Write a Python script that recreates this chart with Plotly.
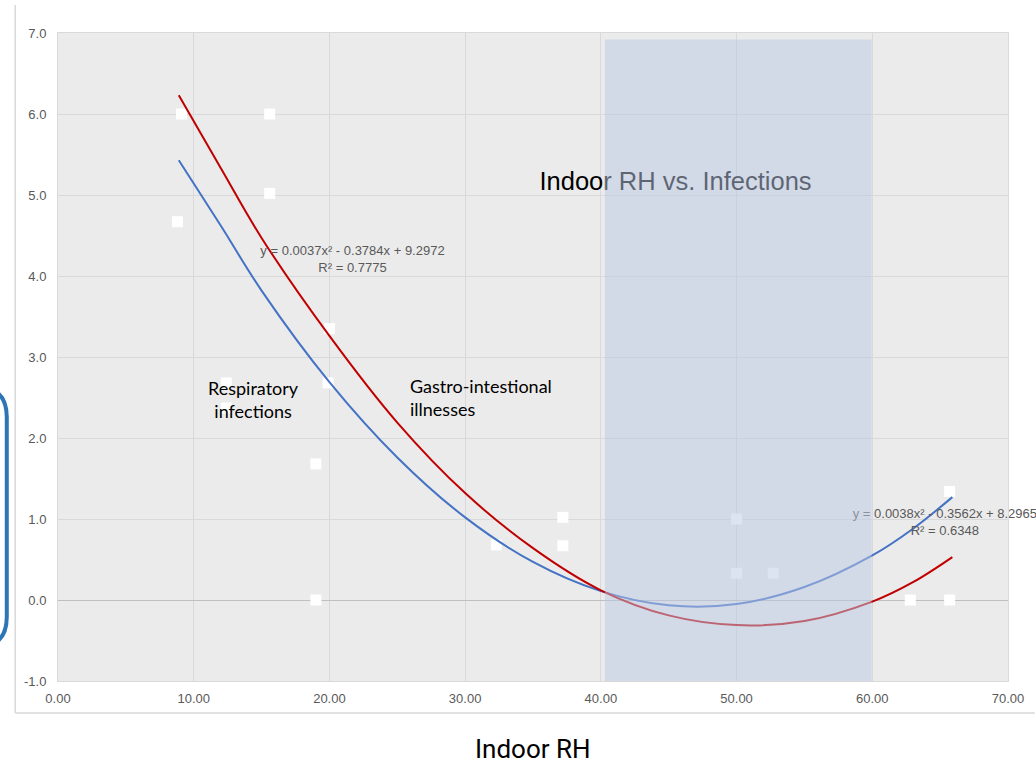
import plotly.graph_objects as go

# ---- data ----
pts_x = [9.1, 15.6, 15.6, 8.8, 12.4, 12.4, 19.9, 20.0, 19.0, 19.0, 32.3, 37.2, 37.2, 50.0, 50.0, 52.7, 62.8, 65.7, 65.7]
pts_y = [6.0, 6.0, 5.02, 4.67, 2.68, 2.37, 2.68, 3.35, 1.68, 0.0, 0.68, 1.02, 0.67, 1.0, 0.33, 0.33, 0.0, 0.0, 1.34]

curve_x = [8.9, 12, 15, 20, 25, 30, 35, 40, 45, 50, 55, 60, 63, 65.9]
gastro_y = [6.23, 5.33, 4.47, 3.26, 2.19, 1.32, 0.64, 0.12, -0.19, -0.31, -0.26, -0.02, 0.22, 0.53]
resp_y = [5.43, 4.62, 3.82, 2.69, 1.76, 1.02, 0.47, 0.11, -0.065, -0.05, 0.16, 0.55, 0.88, 1.27]

x_ticks = [0, 10, 20, 30, 40, 50, 60, 70]
y_ticks = [-1, 0, 1, 2, 3, 4, 5, 6, 7]
x_tick_labels = [f"{v:.2f}" for v in x_ticks]
y_tick_labels = [f"{v:.1f}" for v in y_ticks]

band_x = [40.3, 59.95]
band_y = [-1.0, 6.92]

title_text = "Indoor RH vs. Infections"
title_pos = (45.5, 5.14)
eq1_text = "y = 0.0037x² - 0.3784x + 9.2972<br>R² = 0.7775"
eq1_pos = (21.7, 4.19)
eq2_text = "y = 0.0038x² - 0.3562x + 8.2965<br>R² = 0.6348"
eq2_pos = (65.35, 0.95)
resp_label = "Respiratory<br>infections"
resp_pos = (14.4, 2.48)
gastro_label = "Gastro-intestional<br>illnesses"
gastro_pos = (25.8, 2.50)
x_title = "Indoor RH"

# ---- figure ----
W, H = 1036, 766
L, R, T, B = 58, 23, 33, 85
pw, ph = W - L - R, H - T - B

def px_x(p):
    return (p - L) / pw

def px_y(p):
    return (H - B - p) / ph

fig = go.Figure()

fig.add_trace(go.Scatter(
    x=pts_x, y=pts_y, mode="markers",
    marker=dict(symbol="square", size=11, color="white", line=dict(width=0)),
    showlegend=False, hoverinfo="skip", cliponaxis=False))

fig.add_trace(go.Scatter(
    x=curve_x, y=resp_y, mode="lines", line=dict(color="#4472c4", width=2, shape="spline", smoothing=1),
    showlegend=False, hoverinfo="skip"))
fig.add_trace(go.Scatter(
    x=curve_x, y=gastro_y, mode="lines", line=dict(color="#c00000", width=2, shape="spline", smoothing=1),
    showlegend=False, hoverinfo="skip"))

fig.add_trace(go.Scatter(
    x=[title_pos[0]], y=[title_pos[1]], mode="text", text=[title_text],
    textfont=dict(family="Liberation Sans, Arial", size=25.5, color="#000000"),
    showlegend=False, hoverinfo="skip", cliponaxis=False))
fig.add_trace(go.Scatter(
    x=[eq1_pos[0], eq2_pos[0]], y=[eq1_pos[1], eq2_pos[1]], mode="text",
    text=[eq1_text, eq2_text],
    textfont=dict(family="Liberation Sans, Arial", size=13, color="#595959"),
    showlegend=False, hoverinfo="skip", cliponaxis=False))

# shaded optimal band on top of everything in the plot
fig.add_shape(type="rect", xref="x", yref="y", x0=band_x[0], x1=band_x[1], y0=band_y[0], y1=band_y[1],
              fillcolor="rgba(185,200,228,0.5)", line=dict(width=0), layer="above")

# outer chart frame (left + bottom)
fx0, fy0, fy1 = px_x(15), px_y(713), px_y(5)
fig.add_shape(type="line", xref="paper", yref="paper", x0=fx0, x1=fx0, y0=fy0, y1=fy1,
              line=dict(color="#d9d9d9", width=1.5), layer="above")
fig.add_shape(type="line", xref="paper", yref="paper", x0=fx0, x1=px_x(1040), y0=fy0, y1=fy0,
              line=dict(color="#d9d9d9", width=1.5), layer="above")

# blue rounded bracket at left edge
xr, xc, xl = px_x(6.5), px_x(-23.5), px_x(-60)
yt, ytc, ybc, yb = px_y(387), px_y(417), px_y(617), px_y(647)
fig.add_shape(type="path", xref="paper", yref="paper",
              path=f"M {xl},{yt} L {xc},{yt} Q {xr},{yt} {xr},{ytc} L {xr},{ybc} Q {xr},{yb} {xc},{yb} L {xl},{yb}",
              line=dict(color="#2e75b6", width=4), layer="above")

fig.add_annotation(x=resp_pos[0], y=resp_pos[1], xref="x", yref="y", text=resp_label,
                   showarrow=False, align="center", xanchor="center",
                   font=dict(family="Lato, Open Sans", size=18, color="#000000"))
fig.add_annotation(x=gastro_pos[0], y=gastro_pos[1], xref="x", yref="y", text=gastro_label,
                   showarrow=False, align="left", xanchor="left",
                   font=dict(family="Lato, Open Sans", size=18, color="#000000"))
fig.add_annotation(x=0.5, y=px_y(765), xref="paper", yref="paper", text=x_title,
                   showarrow=False, xanchor="center", yanchor="bottom", borderpad=0,
                   font=dict(family="Liberation Sans Narrow, Roboto, Arial", size=26, color="#000000"))

axis_font = dict(family="Liberation Sans, Arial", size=13, color="#595959")
fig.update_layout(
    width=W, height=H, margin=dict(l=L, r=R, t=T, b=B),
    paper_bgcolor="white", plot_bgcolor="#ebebeb",
    xaxis=dict(range=[0, 70], tickvals=x_ticks, ticktext=x_tick_labels, showgrid=True,
               gridcolor="#d9d9d9", gridwidth=1, zeroline=True, zerolinecolor="#c8c8c8",
               showline=True, mirror=True, linecolor="#d9d9d9", linewidth=1,
               ticks="", tickfont=axis_font, ticklabelstandoff=5),
    yaxis=dict(range=[-1, 7], tickvals=y_ticks, ticktext=y_tick_labels, showgrid=True,
               gridcolor="#d9d9d9", gridwidth=1, zeroline=True, zerolinecolor="#bfbfbf", zerolinewidth=1,
               showline=True, mirror=True, linecolor="#d9d9d9", linewidth=1,
               ticks="", tickfont=axis_font, ticklabelstandoff=8),
    showlegend=False,
)

fig.write_html("out.html")
